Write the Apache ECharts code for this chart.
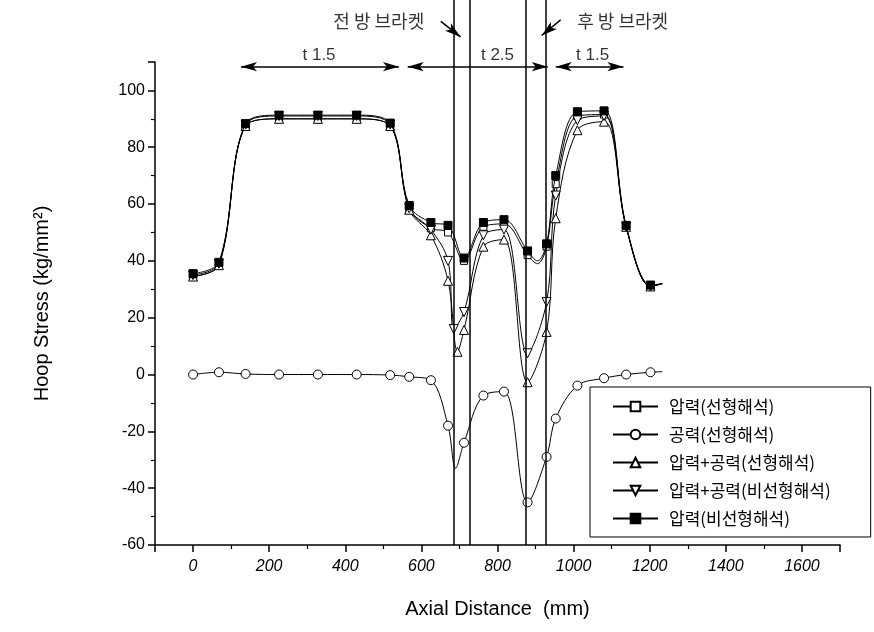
<!DOCTYPE html>
<html>
<head>
<meta charset="utf-8">
<script src="https://cdn.jsdelivr.net/npm/echarts@6/dist/echarts.min.js"></script>
<style>
  html, body { margin: 0; padding: 0; background: #fff; }
  #chart { width: 874px; height: 632px; }
</style>
</head>
<body>
<div id="chart"></div>
<script>
  // 시리즈 데이터 [축방향 거리(mm), 후프 응력(kg/mm2)]
  const pressLinear = [[0,34.5],[68,38.5],[138,87.5],[226,90],[328,90],[430,90],[518,87.5],[568,58.5],[625,51.5],[670,50],[712,40],[763,52],[817,53],[879,42],[905,39],[929,45],[953,67],[1010,91],[1080,91.5],[1138,52],[1202,31],[1233,32]];
  const aeroLinear = [[0,0],[68,0.8],[138,0.2],[226,0],[328,0],[430,0],[518,-0.2],[568,-0.8],[625,-2],[670,-18],[690,-33],[712,-24],[763,-7.4],[817,-6],[879,-45],[929,-29],[953,-15.5],[1010,-3.9],[1080,-1.3],[1138,0],[1202,0.8],[1233,1]];
  const sumLinear = [[0,34.5],[68,38.5],[138,87.5],[226,90],[328,90],[430,90],[518,87.5],[568,58],[625,49],[670,33],[695,8],[712,15.7],[763,45],[817,47.5],[879,-2.7],[929,15],[953,55],[1010,86],[1080,89],[1138,52],[1202,31],[1233,32]];
  const sumNonlinear = [[0,35],[68,39],[138,88],[226,91],[328,91],[430,91],[518,88],[568,58.5],[625,51],[670,40],[685,16],[712,22],[763,49],[817,51],[879,7.5],[929,25.5],[953,63],[1010,89.5],[1080,91],[1138,52],[1202,31],[1233,32]];
  const pressNonlinear = [[0,35.5],[68,39.5],[138,88.3],[226,91.3],[328,91.3],[430,91.3],[518,88.5],[568,59.5],[625,53.5],[670,52.5],[712,41],[763,53.5],[817,54.5],[879,43.5],[905,40],[929,46],[953,70],[1010,92.5],[1080,92.8],[1138,52.5],[1202,31.5],[1233,32]];
  // 마커 없는 점 (곡선 보조점)
  const noMarkX = [690, 905, 1233];

  const seriesNames = ['압력(선형해석)', '공력(선형해석)', '압력+공력(선형해석)', '압력+공력(비선형해석)', '압력(비선형해석)'];

  // 브라켓 위치, 두께 구간
  const bracketX = [685, 728, 875, 926];
  const thickRanges = [[126, 541], [564, 932], [953, 1131]];
  const thickLabels = ['t 1.5', 't 2.5', 't 1.5'];
  const thickLabelX = [331, 800, 1050];
  const bracketLabels = [{ name: '전 방 브라켓', x: 488 }, { name: '후 방 브라켓', x: 1129 }];
  const bracketPointers = [[[651, 124.5], [703, 119]], [[966, 125], [916, 119.5]]];

  const chart = echarts.init(document.getElementById('chart'));

  const font = 'Liberation Sans, Arial, sans-serif';
  const krFont = 'Noto Sans CJK KR, sans-serif';

  function markSize(s) {
    return function (v) { return noMarkX.indexOf(v[0]) >= 0 ? 0 : s; };
  }

  function mkSeries(name, data, symbol, size, fill, z) {
    return {
      name: name,
      type: 'line',
      data: data,
      smooth: 0.35,
      symbol: symbol,
      symbolSize: markSize(size),
      showAllSymbol: true,
      z: z,
      lineStyle: { color: '#000', width: 1 },
      itemStyle: { color: fill, borderColor: '#000', borderWidth: 1 },
      emphasis: { disabled: true }
    };
  }

  const downTri = 'path://M0,0 L10,0 L5,9 Z';

  let option = {
    animation: false,
    backgroundColor: '#fff',
    grid: [
      { left: 155, right: 34, top: 62, bottom: 87 },
      { left: 155, right: 34, top: 0, bottom: 87 }
    ],
    xAxis: [{
      type: 'value',
      gridIndex: 0,
      min: -100,
      max: 1700,
      splitNumber: 9,
      name: 'Axial Distance  (mm)',
      nameLocation: 'middle',
      nameGap: 54,
      nameTextStyle: { fontFamily: font, fontSize: 20, color: '#000' },
      axisLine: { onZero: false, lineStyle: { color: '#000', width: 1.5 } },
      axisTick: { inside: false, length: 7, lineStyle: { color: '#000', width: 1.5 } },
      minorTick: { show: true, splitNumber: 2, length: 4, lineStyle: { color: '#000', width: 1.2 } },
      axisLabel: {
        showMinLabel: false, showMaxLabel: false, margin: 14,
        formatter: v => String(v),
        fontFamily: font, fontSize: 16, fontStyle: 'italic', color: '#000'
      },
      splitLine: { show: false }
    }, {
      type: 'value', gridIndex: 1, min: -100, max: 1700, show: false
    }],
    yAxis: [{
      type: 'value',
      gridIndex: 0,
      min: -60,
      max: 110,
      interval: 20,
      name: 'Hoop Stress (kg/mm²)',
      nameLocation: 'middle',
      nameGap: 103,
      nameTextStyle: { fontFamily: font, fontSize: 20, color: '#000' },
      axisLine: { show: true, onZero: false, lineStyle: { color: '#000', width: 1.5 } },
      axisTick: { show: true, length: 7, lineStyle: { color: '#000', width: 1.5 } },
      minorTick: { show: true, splitNumber: 2, length: 4, lineStyle: { color: '#000', width: 1.2 } },
      axisLabel: { showMaxLabel: false, margin: 10, fontFamily: font, fontSize: 16, color: '#000' },
      splitLine: { show: false }
    }, {
      type: 'value', gridIndex: 1, min: -60, max: 132, show: false
    }],
    legend: {
      orient: 'vertical',
      left: 590,
      top: 387,
      padding: [11, 40, 10, 22],
      itemWidth: 45,
      itemHeight: 12,
      itemGap: 11,
      borderColor: '#000',
      borderWidth: 1,
      backgroundColor: '#fff',
      data: seriesNames,
      textStyle: { fontFamily: krFont, fontSize: 17, color: '#000', padding: [0, 0, 0, 6] }
    },
    series: [
      mkSeries(seriesNames[0], pressLinear, 'rect', 7, '#fff', 3),
      mkSeries(seriesNames[1], aeroLinear, 'circle', 9, '#fff', 3),
      mkSeries(seriesNames[2], sumLinear, 'triangle', 9, '#fff', 3),
      mkSeries(seriesNames[3], sumNonlinear, downTri, 9, '#fff', 3),
      mkSeries(seriesNames[4], pressNonlinear, 'rect', 8, '#000', 4),
      {
        // 브라켓 위치 수직선
        type: 'line',
        xAxisIndex: 1,
        yAxisIndex: 1,
        data: [],
        silent: true,
        markLine: {
          silent: true,
          animation: false,
          symbol: ['none', 'none'],
          label: { show: false },
          lineStyle: { color: '#000', width: 1.5, type: 'solid' },
          data: bracketX.map(x => ({ xAxis: x }))
        }
      },
      {
        // 두께 구간 화살표, 브라켓 지시 화살표
        type: 'line',
        xAxisIndex: 1,
        yAxisIndex: 1,
        data: [],
        silent: true,
        markLine: {
          silent: true,
          animation: false,
          symbol: ['arrow', 'arrow'],
          symbolSize: [7, 16],
          label: { show: false },
          lineStyle: { color: '#000', width: 1.5, type: 'solid' },
          data: thickRanges.map(r => [{ coord: [r[0], 108.5] }, { coord: [r[1], 108.5] }])
            .concat(bracketPointers.map(p => [{ coord: p[0], symbol: 'none' }, { coord: p[1], symbol: 'arrow' }]))
        }
      },
      {
        type: 'scatter',
        xAxisIndex: 1,
        yAxisIndex: 1,
        symbolSize: 0,
        silent: true,
        data: thickLabels.map((t, i) => ({ name: t, value: [thickLabelX[i], 112.5] })),
        label: { show: true, position: 'inside', formatter: '{b}', fontFamily: font, fontSize: 17, color: '#000' }
      },
      {
        type: 'scatter',
        xAxisIndex: 1,
        yAxisIndex: 1,
        symbolSize: 0,
        silent: true,
        data: bracketLabels.map(b => ({ name: b.name, value: [b.x, 124.6] })),
        label: { show: true, position: 'inside', formatter: '{b}', fontFamily: krFont, fontSize: 18, color: '#000' }
      }
    ]
  };
  chart.setOption(option);
</script>
</body>
</html>
